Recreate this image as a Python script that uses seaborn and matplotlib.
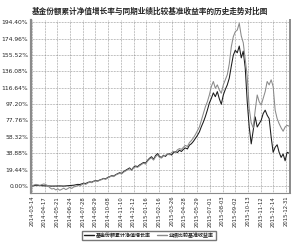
import matplotlib
matplotlib.use("Agg")
import matplotlib.pyplot as plt
import seaborn as sns
import pandas as pd
import numpy as np

# 基金份额累计净值增长率 (%)
fund = [0, 0.5, 1, 0.8, 0.6, 0.5, 0.3, 0.2, 0.1, 0, 0, 0, 0, 0.1, 0.2, 0.1, 0, 0.2, 0.3, 0.5, 0.8, 1.0,
        1.5, 2.0, 1.8, 2.6, 3.4, 3.0, 4.2, 5.0, 4.6, 5.8, 6.5, 6.0, 7.2,
        8.0, 9.1, 8.5, 10.2, 11.0, 12.4, 11.8, 13.5, 14.6, 15.8, 15.0, 17.2, 18.6, 20.0, 21.5,
        19.0, 22.4, 23.8, 23.0, 25.1, 26.4, 28.0, 27.2, 30.5, 33.0, 34.8, 31.6, 36.0, 38.5, 35.0,
        34.0, 36.5, 35.2, 37.8, 38.2, 36.8, 39.5, 41.0, 39.8, 42.5,
        41.0, 43.6, 45.2, 44.0, 48.5, 50.2, 53.0, 56.5, 60.0, 64.2,
        70.5, 76.0, 82.4, 90.0, 98.5, 104.0, 110.5, 106.0, 112.0, 103.5,
        97.0, 108.0, 114.5, 120.0, 128.0, 142.0, 155.0, 161.0, 158.0, 166.0,
        152.0, 160.0, 140.0, 100.0, 70.0, 50.0, 66.0, 82.0, 70.0, 74.0,
        78.0, 86.0, 90.0, 84.0, 80.0, 58.0, 40.0, 46.0, 49.0, 40.0,
        34.0, 38.0, 30.0, 40.0, 39.0]

# 业绩比较基准收益率 (%)
bench = [0, 1.2, 2.0, 1.5, 0.8, 1.8, 2.5, 1.6, 0.5, -2.0, -3.5, -2.8, -4.6, -3.2, -5.0, -3.8, -2.5, -4.2, -3.0, -1.5, -2.8, -1.0,
         -0.5, 0.8, 0.2, 1.5, 2.8, 2.0, 3.5, 4.8, 4.0, 5.5, 6.2, 5.6, 7.0,
         7.6, 8.8, 8.0, 9.6, 10.8, 12.0, 11.2, 13.0, 14.2, 15.0, 14.4, 16.5, 17.8, 19.2, 20.6,
         18.5, 21.6, 22.8, 22.2, 24.0, 25.6, 27.2, 26.0, 29.5, 32.0, 33.5, 30.8, 34.6, 37.0, 34.0,
         33.2, 35.8, 36.5, 38.0, 37.0, 39.5, 41.2, 40.0, 43.0, 44.5,
         43.5, 46.0, 48.2, 47.0, 51.5, 54.0, 57.2, 61.0, 65.5, 70.0,
         78.0, 86.0, 94.0, 100.0, 108.0, 118.0, 124.0, 116.0, 120.0, 114.0,
         110.0, 120.0, 126.0, 132.0, 145.0, 165.0, 177.0, 183.0, 185.0, 193.0,
         178.0, 170.0, 150.0, 130.0, 92.0, 75.0, 69.0, 90.0, 108.0, 100.0,
         96.0, 104.0, 112.0, 124.0, 120.0, 126.0, 118.0, 90.0, 80.0, 74.0,
         69.0, 65.0, 70.0, 72.0, 71.0]

date_labels = ["2014-03-14", "2014-04-17", "2014-05-21", "2014-06-24", "2014-07-28",
               "2014-08-29", "2014-10-08", "2014-11-10", "2014-12-12", "2015-01-16",
               "2015-02-16", "2015-03-26", "2015-04-28", "2015-05-29", "2015-07-01",
               "2015-08-03", "2015-09-02", "2015-10-13", "2015-11-12", "2015-12-14",
               "2015-12-31"]

y_ticks = [0.00, 19.44, 38.88, 58.32, 77.76, 97.20, 116.64, 136.08, 155.52, 174.96, 194.40]

fund_name = "基金份额累计净值增长率"
bench_name = "业绩比较基准收益率"

n = len(fund)
df = pd.DataFrame({
    "idx": list(range(n)) * 2,
    "value": fund + bench,
    "series": [fund_name] * n + [bench_name] * n,
})

sns.set_style("white")
plt.rcParams["font.family"] = ["Noto Sans CJK SC", "DejaVu Sans"]

fig = plt.figure(figsize=(3.0, 2.45), dpi=100)
ax = fig.add_axes([0.103, 0.212, 0.864, 0.706])

sns.lineplot(data=df, x="idx", y="value", hue="series",
             palette={fund_name: "#1a1a1a", bench_name: "#8a8a8a"},
             hue_order=[fund_name, bench_name], linewidth=0.75, ax=ax, legend=False)

ax.set_xlim(-0.5, n - 0.5)
ax.set_ylim(-8.3, 196.8)
tick_pos = np.linspace(0, 127.5, len(date_labels))
ax.set_xticks(tick_pos)
ax.set_xticklabels(date_labels, rotation=90, fontsize=3.8, family="DejaVu Sans")
ax.set_yticks(y_ticks)
ax.set_yticklabels([f"{v:.2f}%" for v in y_ticks], fontsize=4.3, family="DejaVu Sans")
ax.tick_params(axis="both", length=0, pad=2)
ax.set_xlabel("")
ax.set_ylabel("")

ax.grid(True, color="#808080", linestyle=(0, (1, 1.2)), linewidth=0.5)
for side in ["left", "right", "bottom"]:
    ax.spines[side].set_color("#8a8a8a")
ax.spines["left"].set_linewidth(1.6)
ax.spines["right"].set_linewidth(1.4)
ax.spines["bottom"].set_linewidth(0.8)
ax.spines["top"].set_visible(False)

fig.text(0.5, 0.955, "基金份额累计净值增长率与同期业绩比较基准收益率的历史走势对比图",
         ha="center", va="center", fontsize=5.5, fontweight="bold")

handles = [plt.Line2D([], [], color="#1a1a1a", lw=1.0),
           plt.Line2D([], [], color="#8a8a8a", lw=1.0)]
fig.legend(handles, [fund_name, bench_name], loc="center", bbox_to_anchor=(0.495, 0.04),
           ncol=2, frameon=True, fancybox=False, edgecolor="#555555",
           handlelength=2.0, handletextpad=0.4, columnspacing=1.2, borderpad=0.4,
           prop={"weight": "bold", "size": 3.6})

fig.savefig("out.png", dpi=100)
